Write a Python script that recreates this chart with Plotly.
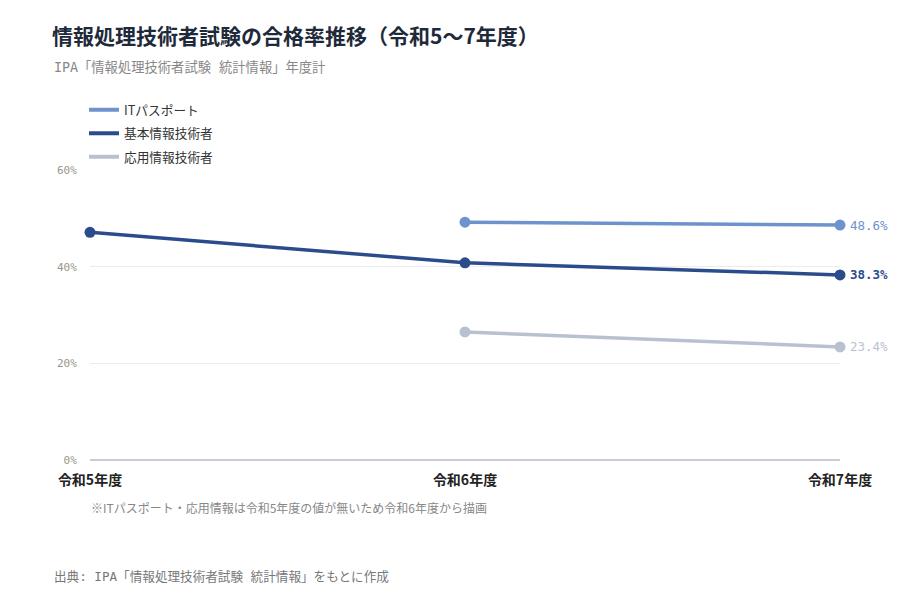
import plotly.graph_objects as go

categories = ["令和5年度", "令和6年度", "令和7年度"]
series_names = ["ITパスポート", "基本情報技術者", "応用情報技術者"]
it_passport = [None, 49.2, 48.6]
fe_basic = [47.1, 40.8, 38.3]
ap_applied = [None, 26.5, 23.4]
series_values = [it_passport, fe_basic, ap_applied]
colors = ["#6e93cc", "#2b4c8c", "#b9c1d1"]
y_ticks = [0, 20, 40, 60]
y_tick_text = ["0%", "20%", "40%", "60%"]

W, H = 900, 600
OFF = 8  # page body margin
L, R, T, B = 90 - OFF, W - (840 - OFF), 170 - OFF, H - (460 - OFF)
PW, PH = W - L - R, H - T - B

def px(x):
    return (x - OFF - L) / PW

def py(y):
    return (H - B - (y - OFF)) / PH

MONO = "DejaVu Sans Mono, Noto Sans CJK JP, monospace"
CJK = "Noto Sans CJK JP, sans-serif"

fig = go.Figure()
for name, vals, col in zip(series_names, series_values, colors):
    fig.add_trace(go.Scatter(
        x=categories, y=vals, mode="lines+markers", name=name,
        line=dict(color=col, width=3.5), marker=dict(size=11, color=col),
        showlegend=False, connectgaps=False, hoverinfo="skip", cliponaxis=False))
for name, col in zip(series_names, colors):
    fig.add_trace(go.Scatter(
        x=[None], y=[None], mode="lines", name=name, legendgroup=name,
        line=dict(color=col, width=4), showlegend=True))

annotations = []
for i, (vals, col) in enumerate(zip(series_values, colors)):
    v = vals[-1]
    annotations.append(dict(
        x=categories[-1], y=v, xref="x", yref="y", text=f"{v}%",
        showarrow=False, xanchor="left", xshift=8,
        font=dict(family=MONO, size=12.5, color=col,
                  weight="bold" if i == 1 else "normal")))

annotations += [
    dict(x=px(52), y=py(68), xref="paper", yref="paper", xanchor="left", yanchor="middle",
         text="IPA「情報処理技術者試験 統計情報」年度計", showarrow=False,
         font=dict(family=MONO, size=13.3, color="#888888")),
    dict(x=px(89), y=py(508), xref="paper", yref="paper", xanchor="left", yanchor="middle",
         text="※ITパスポート・応用情報は令和5年度の値が無いため令和6年度から描画", showarrow=False,
         font=dict(family=CJK, size=12, color="#888888")),
    dict(x=px(52), y=py(576), xref="paper", yref="paper", xanchor="left", yanchor="middle",
         text="出典: IPA「情報処理技術者試験 統計情報」をもとに作成", showarrow=False,
         font=dict(family=MONO, size=12.6, color="#777777")),
]

fig.update_layout(
    width=W, height=H,
    margin=dict(l=L, r=R, t=T, b=B),
    plot_bgcolor="white", paper_bgcolor="white",
    title=dict(text="<b>情報処理技術者試験の合格率推移（令和5〜7年度）</b>",
               x=(52 - OFF) / W, xanchor="left", xref="container",
               y=1 - (37 - OFF) / H, yanchor="middle", yref="container",
               font=dict(family=CJK, size=21, color="#1e2a3a")),
    legend=dict(x=px(84), y=py(95), xref="paper", yref="paper",
                xanchor="left", yanchor="top",
                font=dict(family=CJK, size=12.7, color="#333333"),
                tracegroupgap=4, itemwidth=30, bgcolor="rgba(0,0,0,0)"),
    xaxis=dict(type="category", range=[0, 2], showgrid=False, zeroline=False,
               showline=False, ticks="outside", ticklen=7, tickcolor="rgba(0,0,0,0)",
               tickfont=dict(family=CJK, size=14, color="#222222", weight="bold"),
               fixedrange=True),
    yaxis=dict(range=[0, 60], tickvals=y_ticks, ticktext=y_tick_text,
               showgrid=True, gridcolor="#ececf0", gridwidth=1,
               zeroline=True, zerolinecolor="#c9ccd8", zerolinewidth=2,
               showline=False, ticks="outside", ticklen=10, tickcolor="rgba(0,0,0,0)",
               tickfont=dict(family=MONO, size=11, color="#9a9688"),
               fixedrange=True),
    annotations=annotations,
    hovermode=False,
)

fig.write_html("out.html")
